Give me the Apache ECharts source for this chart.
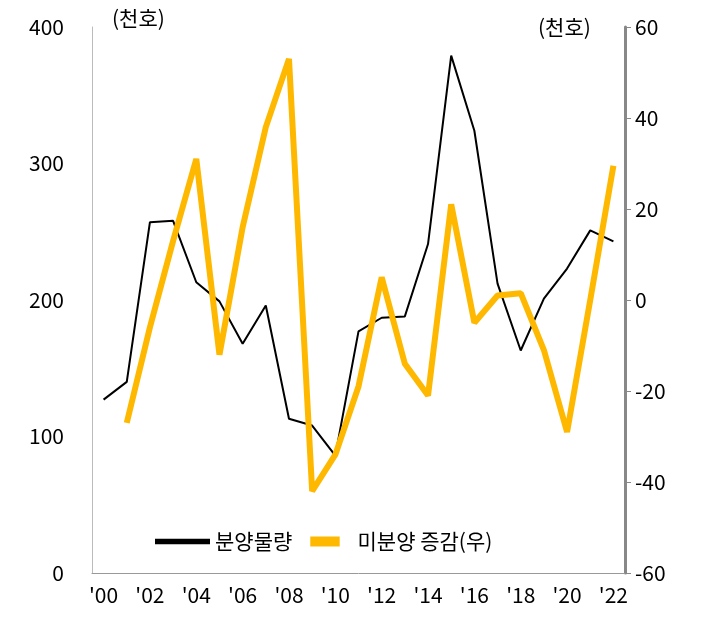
<!DOCTYPE html><html><head><meta charset="utf-8"><script src="https://cdn.jsdelivr.net/npm/echarts@6/dist/echarts.min.js"></script></head><body style="margin:0"><div id="c" style="width:710px;height:637px"></div><script>
const years=["'00","'01","'02","'03","'04","'05","'06","'07","'08","'09","'10","'11","'12","'13","'14","'15","'16","'17","'18","'19","'20","'21","'22"];
const supply=[127,140,257,258,213,199,168,196,113,108,86,177,187,188,241,379,324,212,163,201,223,251,243];
const unsoldChange=[null,-27,-6,13,31,-12,16,38,53,-42,-34,-19,5,-14,-21,21,-5,1,1.5,-11,-29,0,29.5];
const F='"Noto Sans CJK KR"';
const ch=echarts.init(document.getElementById('c'));
ch.setOption({
 grid:{left:92,right:85,top:27,bottom:64},
 legend:{bottom:80,left:150,itemWidth:55,itemHeight:10,itemGap:18,textStyle:{fontFamily:F,fontSize:21,color:'#000'},
   data:[{name:'분양물량',icon:'path://M0,4.5H10V5.5H0Z'},{name:'미분양 증감(우)',icon:'path://M0,3.3H10V6.7H0Z'}]},
 graphic:[{type:'text',left:112,top:8,style:{text:'(천호)',font:'21px '+F,fill:'#000'}},
          {type:'text',left:538,top:17,style:{text:'(천호)',font:'21px '+F,fill:'#000'}}],
 xAxis:{type:'category',data:years,boundaryGap:true,
   axisLine:{lineStyle:{color:'#999'}},axisTick:{show:false},
   axisLabel:{interval:1,fontSize:21,color:'#000',fontFamily:F,margin:12}},
 yAxis:[{type:'value',min:0,max:400,interval:100,splitLine:{show:false},
   axisLine:{show:true,lineStyle:{color:'#bbb'}},axisLabel:{fontSize:21,color:'#000',fontFamily:F,margin:28}},
  {type:'value',min:-60,max:60,interval:20,splitLine:{show:false},position:'right',
   axisLine:{show:true,lineStyle:{color:'#888',width:3}},axisTick:{show:true,length:6,lineStyle:{color:'#888'}},axisLabel:{fontSize:21,color:'#000',fontFamily:F,margin:10}}],
 series:[{name:'분양물량',type:'line',data:supply,symbol:'none',lineStyle:{color:'#000',width:2},itemStyle:{color:'#000'}},
  {name:'미분양 증감(우)',type:'line',yAxisIndex:1,data:unsoldChange,symbol:'none',lineStyle:{color:'#FFB800',width:6},itemStyle:{color:'#FFB800'}}]
});
</script></body></html>
